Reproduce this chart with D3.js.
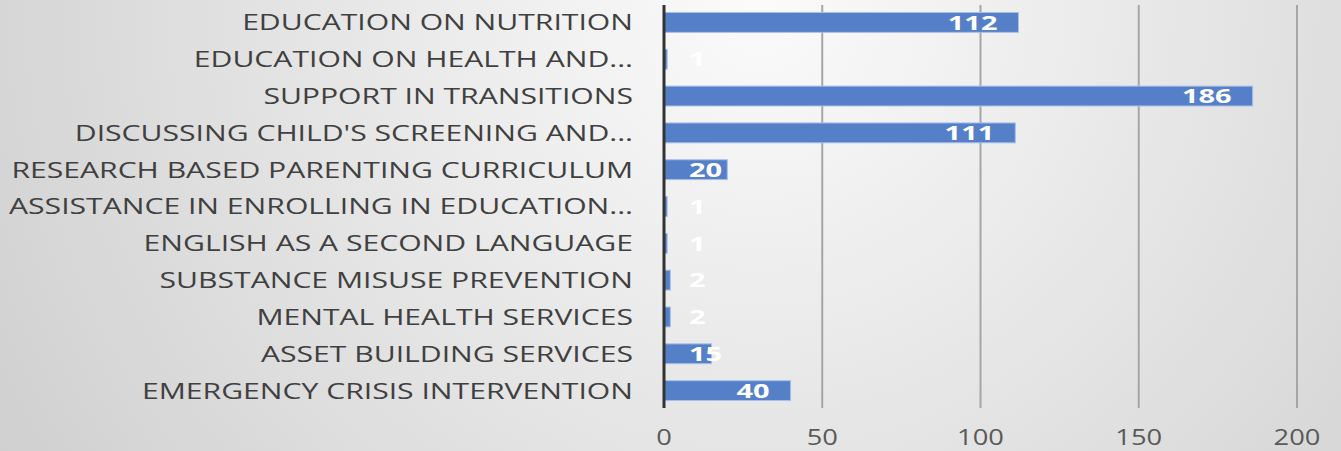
<!DOCTYPE html>
<html>
<head>
<meta charset="utf-8">
<script src="https://cdn.jsdelivr.net/npm/d3@7"></script>
<style>
  body { margin: 0; overflow: hidden; }
  svg { display: block; }
</style>
</head>
<body>
<script>
var categories = [
  "EDUCATION ON NUTRITION",
  "EDUCATION ON HEALTH AND...",
  "SUPPORT IN TRANSITIONS",
  "DISCUSSING CHILD'S SCREENING AND...",
  "RESEARCH BASED PARENTING CURRICULUM",
  "ASSISTANCE IN ENROLLING IN EDUCATION...",
  "ENGLISH AS A SECOND LANGUAGE",
  "SUBSTANCE MISUSE PREVENTION",
  "MENTAL HEALTH SERVICES",
  "ASSET BUILDING SERVICES",
  "EMERGENCY CRISIS INTERVENTION"
];
var values = [112, 1, 186, 111, 20, 1, 1, 2, 2, 15, 40];
var tickValues = [0, 50, 100, 150, 200];

var width = 1341, height = 451;
// text in the picture is stretched sideways
var labelStretch = 1.37, valueStretch = 1.45, tickStretch = 1.3;

var svg = d3.select("body").append("svg").attr("width", width).attr("height", height);

// background gradient
var defs = svg.append("defs");
var grad = defs.append("radialGradient").attr("id", "bg")
  .attr("gradientUnits", "userSpaceOnUse")
  .attr("cx", 760).attr("cy", 0).attr("r", 900);
grad.append("stop").attr("offset", "0%").attr("stop-color", "#fbfbfb");
grad.append("stop").attr("offset", "100%").attr("stop-color", "#cfcfcf");
svg.append("rect").attr("width", width).attr("height", height).attr("fill", "url(#bg)");

var x = d3.scaleLinear().domain([0, 200]).range([664, 1297]);
var y = d3.scaleBand().domain(categories).range([4, 409]).paddingInner(0.46).paddingOuter(0.23);

// gridlines
svg.append("g").selectAll("line")
  .data(tickValues.slice(1))
  .enter().append("line")
  .attr("x1", function(d) { return x(d); })
  .attr("x2", function(d) { return x(d); })
  .attr("y1", 5).attr("y2", 408)
  .attr("stroke", "#a6a6a6").attr("stroke-width", 2);

// bars
svg.append("g").selectAll("rect")
  .data(values)
  .enter().append("rect")
  .attr("x", x(0))
  .attr("y", function(d, i) { return y(categories[i]); })
  .attr("width", function(d) { return x(d) - x(0); })
  .attr("height", y.bandwidth())
  .attr("fill", "#5580c8")
  .attr("stroke", "#a9c1ea").attr("stroke-width", 1);

// axis line
svg.append("line")
  .attr("x1", x(0)).attr("x2", x(0))
  .attr("y1", 5).attr("y2", 408)
  .attr("stroke", "#333").attr("stroke-width", 3);

// category labels
svg.append("g").selectAll("text")
  .data(categories)
  .enter().append("text")
  .attr("transform", function(d) {
    return "translate(633," + (y(d) + y.bandwidth() / 2) + ") scale(" + labelStretch + ",1)";
  })
  .attr("dy", "0.36em")
  .attr("text-anchor", "end")
  .attr("font-family", "'Open Sans', sans-serif")
  .attr("font-size", 22)
  .attr("fill", "#404040")
  .text(function(d) { return d; });

// value labels, inside the bar end unless the bar is too short
var vl = svg.append("g").selectAll("text")
  .data(values)
  .enter().append("text")
  .attr("dy", "0.36em")
  .attr("font-family", "'Open Sans', sans-serif")
  .attr("font-weight", "bold")
  .attr("font-size", 20)
  .attr("fill", "#ffffff")
  .text(function(d) { return d; });
vl.each(function(d, i) {
  var t = d3.select(this);
  var w = this.getComputedTextLength() * valueStretch;
  var endX = x(d) - 21;
  var cy = y(categories[i]) + y.bandwidth() / 2;
  if (endX - w < x(0) + 25) {
    t.attr("text-anchor", "start").attr("transform", "translate(" + (x(0) + 25) + "," + cy + ") scale(" + valueStretch + ",1)");
  } else {
    t.attr("text-anchor", "end").attr("transform", "translate(" + endX + "," + cy + ") scale(" + valueStretch + ",1)");
  }
});

// x tick labels
svg.append("g").selectAll("text")
  .data(tickValues)
  .enter().append("text")
  .attr("transform", function(d) { return "translate(" + x(d) + ",438) scale(" + tickStretch + ",1)"; })
  .attr("dy", "0.35em")
  .attr("text-anchor", "middle")
  .attr("font-family", "'Open Sans', sans-serif")
  .attr("font-size", 21)
  .attr("fill", "#595959")
  .text(function(d) { return d; });
</script>
</body>
</html>
